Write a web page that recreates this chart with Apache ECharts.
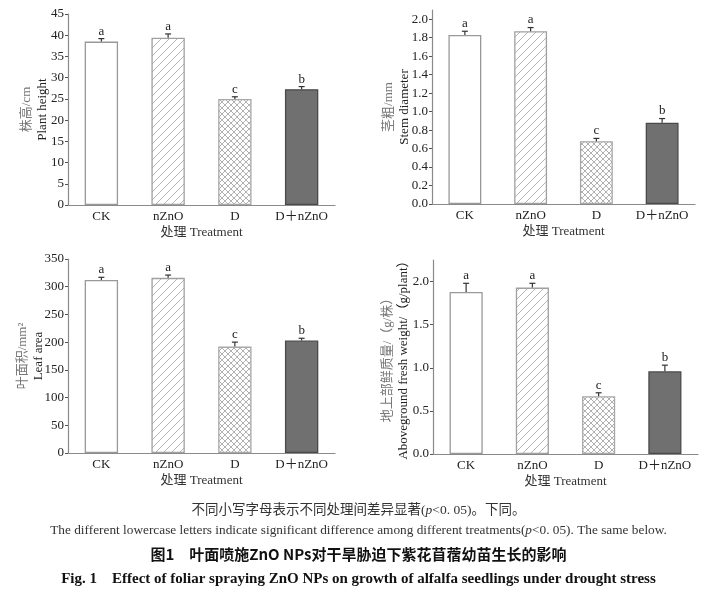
<!DOCTYPE html>
<html><head><meta charset="utf-8">
<script src="https://cdn.jsdelivr.net/npm/echarts@6/dist/echarts.min.js"></script>
<style>html,body{margin:0;padding:0;background:#fff}#c{width:717px;height:597px}</style>
</head><body><div id="c"></div>
<script>
const categories = ['CK', 'nZnO', 'D', 'D＋nZnO'];
const letters = ['a', 'a', 'c', 'b'];
const plantHeight = [38.5, 39.4, 25.0, 27.3];
const plantHeightErr = [0.7, 0.9, 0.5, 0.6];
const stemDiameter = [1.83, 1.87, 0.68, 0.88];
const stemDiameterErr = [0.04, 0.04, 0.03, 0.045];
const leafArea = [312, 316, 192, 203];
const leafAreaErr = [5, 5, 8, 4];
const freshWeight = [1.88, 1.93, 0.67, 0.96];
const freshWeightErr = [0.10, 0.05, 0.04, 0.07];
const yTicksStem = [0, 0.2, 0.4, 0.6, 0.8, 1.0, 1.2, 1.4, 1.6, 1.8, 2.0];
const yTicksWeight = [0, 0.5, 1.0, 1.5, 2.0];

const SERIF = '"Liberation Serif", "Noto Sans CJK SC", serif';

function makeTile(size, draw) {
  const c = document.createElement('canvas');
  c.width = size; c.height = size;
  const x = c.getContext('2d');
  x.fillStyle = '#fff'; x.fillRect(0, 0, size, size);
  draw(x, size);
  return c;
}
const hatchTile = makeTile(8, (x, s) => {
  x.strokeStyle = '#b5b5b5'; x.lineWidth = 1;
  x.beginPath();
  x.moveTo(-1, s + 1); x.lineTo(s + 1, -1);
  x.moveTo(-1, 1); x.lineTo(1, -1);
  x.moveTo(s - 1, s + 1); x.lineTo(s + 1, s - 1);
  x.stroke();
});
const crossTile = makeTile(6, (x, s) => {
  x.strokeStyle = '#a8a8a8'; x.lineWidth = 0.9;
  x.beginPath();
  x.moveTo(0, s); x.lineTo(s, 0);
  x.moveTo(0, 0); x.lineTo(s, s);
  x.stroke();
});

const barStyles = [
  { color: '#ffffff', borderColor: '#999', borderWidth: 1.3 },
  { color: { image: hatchTile, repeat: 'repeat' }, borderColor: '#a0a0a0', borderWidth: 1.3 },
  { color: { image: crossTile, repeat: 'repeat' }, borderColor: '#a8a8a8', borderWidth: 1.3 },
  { color: '#707070', borderColor: '#4a4a4a', borderWidth: 1.3 }
];

const grids = [
  { left: 68, right: 382, top: 14, bottom: 392 },
  { left: 432, right: 22, top: 10, bottom: 393 },
  { left: 68, right: 382, top: 259, bottom: 144 },
  { left: 433, right: 19, top: 260, bottom: 143 }
];

const axisColor = '#8a8a8a';
function xAxisFor(i) {
  return {
    type: 'category', gridIndex: i, data: categories,
    boundaryGap: true,
    axisLine: { lineStyle: { color: axisColor, width: 1.2 } },
    axisTick: { inside: true, alignWithLabel: true, length: 4, lineStyle: { color: '#555' } },
    axisLabel: { interval: 0, color: '#222', fontFamily: SERIF, fontSize: 13, margin: 5 },
    name: '处理 Treatment', nameLocation: 'middle', nameGap: 21,
    nameTextStyle: { color: '#333', fontFamily: SERIF, fontSize: 13 }
  };
}
function yAxisFor(i, cfg) {
  const ax = {
    type: 'value', gridIndex: i, min: 0, max: cfg.max,
    splitLine: { show: false },
    axisLine: { show: true, lineStyle: { color: axisColor, width: 1.2 } },
    axisTick: { show: true, length: 3, lineStyle: { color: '#555' } },
    axisLabel: { color: '#222', fontFamily: SERIF, fontSize: 13, margin: 4 },
    name: '{cn|' + cfg.cn + '}\n{en|' + cfg.en + '}',
    nameLocation: 'middle', nameRotate: 90, nameGap: cfg.gap,
    nameMoveOverlap: false,
    nameTextStyle: {
      rich: {
        cn: { color: '#777', fontFamily: SERIF, fontSize: 13, lineHeight: 16 },
        en: { color: '#222', fontFamily: SERIF, fontSize: 13, lineHeight: 16 }
      }
    }
  };
  if (cfg.interval) ax.interval = cfg.interval;
  if (cfg.ticks) {
    ax.axisLabel.customValues = cfg.ticks;
    ax.axisTick.customValues = cfg.ticks;
    ax.axisLabel.formatter = v => v.toFixed(1);
  }
  return ax;
}

const panels = [
  { vals: plantHeight, errs: plantHeightErr },
  { vals: stemDiameter, errs: stemDiameterErr },
  { vals: leafArea, errs: leafAreaErr },
  { vals: freshWeight, errs: freshWeightErr }
];

const series = [];
panels.forEach((p, i) => {
  series.push({
    type: 'bar', xAxisIndex: i, yAxisIndex: i, barWidth: '50%',
    data: p.vals.map((v, k) => ({ value: v, itemStyle: barStyles[k] })),
    z: 2
  });
  series.push({
    type: 'custom', xAxisIndex: i, yAxisIndex: i, z: 5,
    data: p.vals.map((v, k) => [k, v, p.errs[k]]),
    renderItem: (params, api) => {
      const k = api.value(0), v = api.value(1), e = api.value(2);
      const base = api.coord([k, v]);
      const top = api.coord([k, v + e]);
      return {
        type: 'group', children: [
          { type: 'line', shape: { x1: base[0], y1: base[1], x2: top[0], y2: top[1] }, style: { stroke: '#333', lineWidth: 1.2 } },
          { type: 'line', shape: { x1: top[0] - 3, y1: top[1], x2: top[0] + 3, y2: top[1] }, style: { stroke: '#333', lineWidth: 1.2 } },
          { type: 'text', x: top[0], y: top[1] - 1, style: { text: letters[params.dataIndex], textAlign: 'center', textVerticalAlign: 'bottom', font: '13px ' + SERIF, fill: '#222' } }
        ]
      };
    }
  });
});

const option = {
  backgroundColor: '#fff',
  animation: false,
  grid: grids,
  xAxis: [0, 1, 2, 3].map(xAxisFor),
  yAxis: [
    yAxisFor(0, { max: 45, interval: 5, cn: '株高/cm', en: 'Plant height', gap: 17 }),
    yAxisFor(1, { max: 2.1, ticks: yTicksStem, cn: '茎粗/mm', en: 'Stem diameter', gap: 19 }),
    yAxisFor(2, { max: 350, interval: 50, cn: '叶面积/mm²', en: 'Leaf area', gap: 21 }),
    yAxisFor(3, { max: 2.25, ticks: yTicksWeight, cn: '地上部鲜质量/（g/株）', en: 'Aboveground fresh weight/（g/plant）', gap: 21 })
  ],
  title: [
    { text: '不同小写字母表示不同处理间差异显著({i|p}<0. 05)。下同。', left: 'center', top: 499,
      textStyle: { fontFamily: SERIF, fontSize: 13.5, fontWeight: 'normal', color: '#333',
        rich: { i: { fontFamily: SERIF, fontSize: 13.5, fontStyle: 'italic', color: '#333' } } } },
    { text: 'The different lowercase letters indicate significant difference among different treatments({i|p}<0. 05). The same below.', left: 'center', top: 519,
      textStyle: { fontFamily: SERIF, fontSize: 13.3, fontWeight: 'normal', color: '#333',
        rich: { i: { fontFamily: SERIF, fontSize: 13.3, fontStyle: 'italic', color: '#333' } } } },
    { text: '图1　叶面喷施ZnO NPs对干旱胁迫下紫花苜蓿幼苗生长的影响', left: 'center', top: 542,
      textStyle: { fontFamily: '"Noto Sans CJK SC", "Liberation Serif", sans-serif', fontSize: 15, fontWeight: 'bold', color: '#111' } },
    { text: 'Fig. 1    Effect of foliar spraying ZnO NPs on growth of alfalfa seedlings under drought stress', left: 'center', top: 567,
      textStyle: { fontFamily: SERIF, fontSize: 15, fontWeight: 'bold', color: '#111' } }
  ],
  series: series
};

const chart = echarts.init(document.getElementById('c'), null, { renderer: 'canvas' });
chart.setOption(option);
</script></body></html>
